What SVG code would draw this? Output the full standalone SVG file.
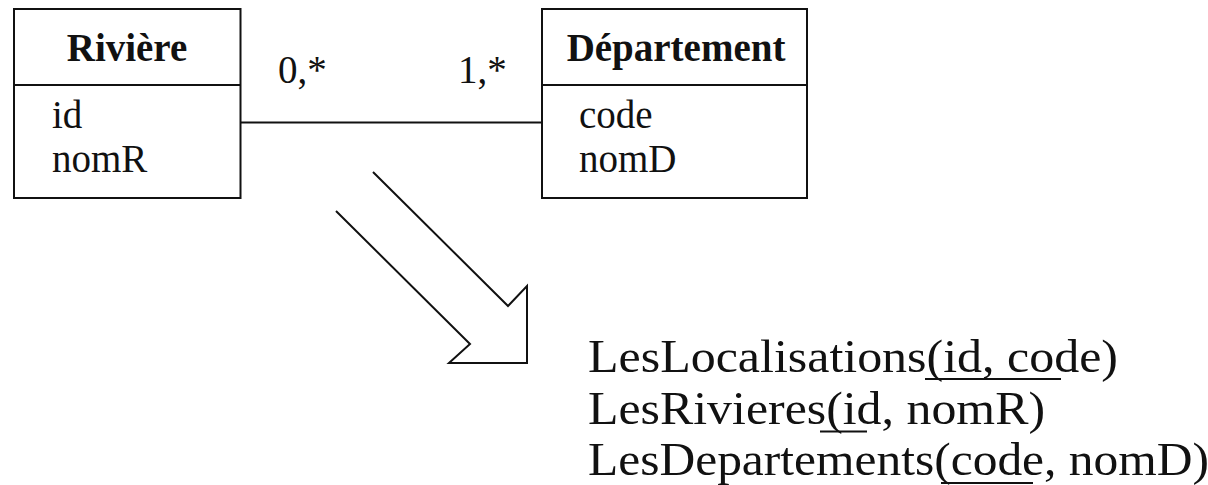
<svg xmlns="http://www.w3.org/2000/svg" width="1208" height="485" viewBox="0 0 1208 485" font-family="Liberation Serif, Times New Roman, serif">
<style>
.box{fill:#fff;stroke:#111;stroke-width:2}
.ln{stroke:#111;stroke-width:2;fill:none}
.t{font-size:39px;fill:#111}
.b{font-weight:bold;text-anchor:middle}
.big{font-size:47px}
.ul{stroke:#111;stroke-width:2}
</style>
<rect width="1208" height="485" fill="#fff"/>
<g id="connectors">
<line class="ln" x1="240" y1="122.5" x2="542" y2="122.5"/>
<text class="t" x="278" y="83">0,*</text>
<text class="t" x="458" y="83">1,*</text>
</g>
<g id="riviere">
<rect class="box" x="14" y="9" width="226.5" height="189"/>
<line class="ln" x1="14" y1="85" x2="240.5" y2="85"/>
<text class="t b" x="127" y="61">Rivière</text>
<text class="t" x="52" y="128">id</text>
<text class="t" x="52" y="172">nomR</text>
</g>
<g id="departement">
<rect class="box" x="542" y="9" width="265" height="189"/>
<line class="ln" x1="542" y1="85" x2="807" y2="85"/>
<text class="t b" x="676" y="61">Département</text>
<text class="t" x="579" y="128">code</text>
<text class="t" x="579" y="172">nomD</text>
</g>
<g id="arrow">
<polyline class="ln" points="373,172 508,306 527,286 527,363 449,363 470,344 336,211"/>
</g>
<g id="relations">
<text class="t big" x="588" y="372" textLength="530" lengthAdjust="spacingAndGlyphs">LesLocalisations(id, code)</text>
<line class="ul" x1="925" y1="379" x2="1061" y2="379"/>
<text class="t big" x="588" y="423.5" textLength="457" lengthAdjust="spacingAndGlyphs">LesRivieres(id, nomR)</text>
<line class="ul" x1="820" y1="431.5" x2="867" y2="431.5"/>
<text class="t big" x="588" y="475" textLength="621" lengthAdjust="spacingAndGlyphs">LesDepartements(code, nomD)</text>
<line class="ul" x1="941" y1="483" x2="1033" y2="483"/>
</g>
</svg>
